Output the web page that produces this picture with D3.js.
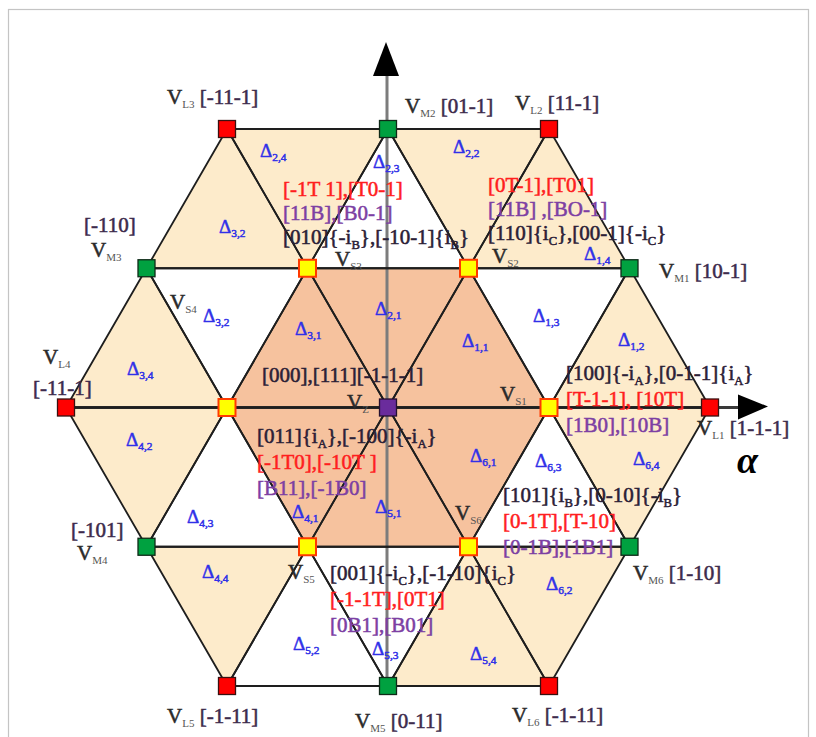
<!DOCTYPE html>
<html>
<head>
<meta charset="utf-8">
<script src="https://cdn.jsdelivr.net/npm/d3@7"></script>
<style>
  body { margin: 0; background: #fff; }
  svg { display: block; }
  text { font-family: "Liberation Serif", "Times New Roman", serif; white-space: pre; }
</style>
</head>
<body>
<svg id="chart" width="816" height="737"></svg>
<script>
// ---- Space-vector lattice: each vector at (a, b) -> alpha = a + b/2, beta = b*sqrt(3)/2
const vectorNames = ["Z","S1","S2","S3","S4","S5","S6","M1","M2","M3","M4","M5","M6","L1","L2","L3","L4","L5","L6"];
const vectorA     = [ 0,  1,   0,  -1,  -1,   0,   1,   1,  -1,  -2,  -1,   1,   2,   2,   0,  -2,  -2,   0,   2];
const vectorB     = [ 0,  0,   1,   1,   0,  -1,  -1,   1,   2,   1,  -1,  -2,  -1,   0,   2,   2,   0,  -2,  -2];
const vectorKind  = ["zero","small","small","small","small","small","small",
                     "medium","medium","medium","medium","medium","medium",
                     "large","large","large","large","large","large"];

// ---- Sub-triangles, four per sector
const triVertices = [
  ["Z","S1","S2"], ["S1","M1","L1"], ["S1","S2","M1"], ["S2","M1","L2"],
  ["Z","S2","S3"], ["S2","L2","M2"], ["S2","S3","M2"], ["S3","M2","L3"],
  ["Z","S3","S4"], ["S3","L3","M3"], ["S3","S4","M3"], ["S4","M3","L4"],
  ["Z","S4","S5"], ["S4","L4","M4"], ["S4","S5","M4"], ["S5","M4","L5"],
  ["Z","S5","S6"], ["S5","L5","M5"], ["S5","S6","M5"], ["S6","M5","L6"],
  ["Z","S6","S1"], ["S6","L6","M6"], ["S6","S1","M6"], ["S1","M6","L1"]
];
const triRegion = [
  "inner","outer","mid","outer",
  "inner","outer","mid","outer",
  "inner","outer","mid","outer",
  "inner","outer","mid","outer",
  "inner","mid","mid","outer",
  "inner","outer","mid","outer"
];
const triCaption = [
  "1,1","1,2","1,3","1,4",
  "2,1","2,2","2,3","2,4",
  "3,1","3,2","3,2","3,4",
  "4,1","4,2","4,3","4,4",
  "5,1","5,2","5,3","5,4",
  "6,1","6,2","6,3","6,4"
];

// ---- Vector labels ("~" encloses a subscript)
const vectorLabelLines = {
  L3: ["V~L3~ [-11-1]"], M2: ["V~M2~ [01-1]"], L2: ["V~L2~ [11-1]"],
  M3: ["[-110]", "V~M3~"], M1: ["V~M1~ [10-1]"],
  L4: ["V~L4~", "[-11-1]"], L1: ["V~L1~ [1-1-1]"],
  M4: ["[-101]", "V~M4~"], M6: ["V~M6~ [1-10]"],
  L5: ["V~L5~ [-1-11]"], M5: ["V~M5~ [0-11]"], L6: ["V~L6~ [-1-11]"],
  S1: ["V~S1~"], S2: ["V~S2~"], S3: ["V~S3~"], S4: ["V~S4~"], S5: ["V~S5~"], S6: ["V~S6~"], Z: ["V~Z~"]
};

// ---- Switching states of each vector (line text, line kind)
const stateLines = {
  S3: [["[-1T 1],[T0-1]","red"], ["[11B],[B0-1]","purple"], ["[010]{-i~B~},[-10-1]{i~B~}","dark"]],
  S2: [["[0T-1],[T01]","red"], ["[11B] ,[BO-1]","purple"], ["[110]{i~C~},[00-1]{-i~C~}","dark"]],
  Z:  [["[000],[111][-1-1-1]","dark"]],
  S1: [["[100]{-i~A~},[0-1-1]{i~A~}","dark"], ["[T-1-1], [10T]","red"], ["[1B0],[10B]","purple"]],
  S4: [["[011]{i~A~},[-100]{-i~A~}","dark"], ["[-1T0],[-10T ]","red"], ["[B11],[-1B0]","purple"]],
  S6: [["[101]{i~B~},[0-10]{-i~B~}","dark"], ["[0-1T],[T-10]","red"], ["[0-1B],[1B1]","purple"]],
  S5: [["[001]{-i~C~},[-1-10]{i~C~}","dark"], ["[-1-1T],[0T1]","red"], ["[0B1],[B01]","purple"]]
};

// ---- Layout (pixel anchors for text: left x, first baseline, line step)
const vectorLabelPos = {
  L3: [167,104,0], M2: [405,113,0], L2: [515,110,0], M3: [84,232,25], M1: [659,278,0],
  L4: [40,364,31], L1: [697,435,0], M4: [71,537,23], M6: [633,580,0],
  L5: [167,723,0], M5: [355,728,0], L6: [512,722,0],
  S1: [500,401,0], S2: [492,263,0], S3: [335,266,0], S4: [170,309,0], S5: [288,579,0], S6: [455,520,0], Z: [347,409,0]
};
const vectorLabelIndent = { M3: [0,7], L4: [3,-7], M4: [0,6] };
const statePos = {
  S3: [283,196,24], S2: [488,192,24], Z: [262,382,0], S1: [566,380,26],
  S4: [257,443,26], S6: [503,502,26], S5: [330,580,26]
};
const captionPos = [
  [462,347],[618,346],[533,322],[584,260],
  [375,315],[453,153],[373,168],[260,157],
  [295,335],[219,233],[203,322],[127,375],
  [292,518],[126,446],[187,523],[202,578],
  [375,513],[293,650],[372,655],[470,660],
  [470,462],[546,590],[535,467],[633,465]
];

const colors = {
  inner: "#f6c29e", outer: "#fdebcb", mid: "#ffffff",
  dark: "#2b2036", red: "#ff1e1e", purple: "#7d3fa3", caption: "#3030e8",
  bracket: "#3d2b4c", vee: "#2a2a2a"
};
const squareStyle = {
  large:  { fill: "#ff0000", stroke: "#3a1010", sw: 1.3 },
  medium: { fill: "#00a140", stroke: "#0f2a18", sw: 1.3 },
  small:  { fill: "#ffff00", stroke: "#ff3a00", sw: 2 },
  zero:   { fill: "#6a2c9c", stroke: "#241030", sw: 1.3 }
};

// ---- Scales
const svg = d3.select("#chart");
const x = d3.scaleLinear().domain([-2, 2]).range([66, 710]);
const y = d3.scaleLinear().domain([-Math.sqrt(3), Math.sqrt(3)]).range([686, 129]);
const idx = Object.fromEntries(vectorNames.map((n, i) => [n, i]));
const pos = n => {
  const i = idx[n];
  return [x(vectorA[i] + vectorB[i] / 2), y(vectorB[i] * Math.sqrt(3) / 2)];
};

// frame
svg.append("rect").attr("x", 8.5).attr("y", 9.5).attr("width", 800).attr("height", 745)
  .attr("fill", "none").attr("stroke", "#c4c4c4").attr("stroke-width", 1.2);

// ---- Triangles
const tris = triVertices.map((v, i) => ({ v, region: triRegion[i], caption: triCaption[i], i }));
svg.append("g").selectAll("path").data(tris).join("path")
  .attr("d", d => "M" + d.v.map(pos).map(p => p.join(",")).join("L") + "Z")
  .attr("fill", d => colors[d.region]);

// axes (drawn over fills, under edges)
const cx = x(0), cy = y(0);
svg.append("line").attr("x1", cx - 1).attr("x2", cx - 1).attr("y1", 62).attr("y2", y(-Math.sqrt(3)))
  .attr("stroke", "#7c7c7c").attr("stroke-width", 3);
svg.append("line").attr("x1", x(-2)).attr("x2", 748).attr("y1", cy).attr("y2", cy)
  .attr("stroke", "#3a3a3a").attr("stroke-width", 3);

svg.append("g").selectAll("path").data(tris).join("path")
  .attr("d", d => "M" + d.v.map(pos).map(p => p.join(",")).join("L") + "Z")
  .attr("fill", "none").attr("stroke", "#1e1e1e").attr("stroke-width", 1.8)
  .attr("stroke-linejoin", "round");

// arrowheads
svg.append("path").attr("d", `M${cx - 2},42 L${cx + 11},76 L${cx - 15},76 Z`).attr("fill", "#000");
svg.append("path").attr("d", `M768,${cy - 1} L738,${cy - 13} L738,${cy + 12} Z`).attr("fill", "#000");
svg.append("text").attr("x", 737).attr("y", 473).attr("font-size", 38)
  .attr("font-style", "italic").attr("font-weight", "bold").attr("fill", "#000").text("α");

// ---- Rich text helper: "~" toggles subscript
function rich(g, str, px, py, size, color, weight) {
  const t = g.append("text").attr("x", px).attr("y", py).attr("font-size", size).attr("fill", color)
    .attr("stroke", color).attr("stroke-width", weight == null ? 0.55 : weight);
  const parts = str.split("~");
  let down = false;
  parts.forEach((p, i) => {
    if (!p) return;
    const ts = t.append("tspan").text(p);
    if (i % 2 === 1) {
      ts.attr("font-size", size * 0.6).attr("dy", size * 0.22);
      down = true;
    } else if (down) {
      ts.attr("dy", -size * 0.22);
      down = false;
    }
  });
  return t;
}

// triangle captions
const capG = svg.append("g");
tris.forEach(d => {
  const [px, py] = captionPos[d.i];
  rich(capG, "Δ~" + d.caption + "~", px, py, 19, colors.caption, 0.5);
});

// switching states
const stG = svg.append("g");
Object.entries(stateLines).forEach(([k, lines]) => {
  const [px, py, step] = statePos[k];
  lines.forEach(([txt, kind], j) => rich(stG, txt, px, py + j * step, 21, colors[kind]));
});

// vector labels
const vlG = svg.append("g");
Object.entries(vectorLabelLines).forEach(([k, lines]) => {
  const [px, py, step] = vectorLabelPos[k];
  const ind = vectorLabelIndent[k] || [0, 0];
  lines.forEach((txt, j) => {
    const t = rich(vlG, "", px + ind[j], py + j * step, 21, colors.vee);
    // "V" + subscript + bracketed state, each with its own colour
    const m = txt.match(/^(V)~([^~]+)~(.*)$/);
    if (m) {
      t.append("tspan").text("V");
      t.append("tspan").text(m[2]).attr("font-size", 11).attr("dy", 4).attr("fill", "#555").attr("stroke", "none");
      if (m[3]) t.append("tspan").text(m[3]).attr("dy", -4).attr("fill", colors.bracket).attr("stroke", colors.bracket);
    } else {
      t.append("tspan").text(txt).attr("fill", colors.bracket).attr("stroke", colors.bracket);
    }
  });
});

// ---- Vector squares
const sq = 17;
svg.append("g").selectAll("rect").data(vectorNames).join("rect")
  .attr("x", n => pos(n)[0] - sq / 2).attr("y", n => pos(n)[1] - sq / 2)
  .attr("width", sq).attr("height", sq)
  .attr("fill", n => squareStyle[vectorKind[idx[n]]].fill)
  .attr("stroke", n => squareStyle[vectorKind[idx[n]]].stroke)
  .attr("stroke-width", n => squareStyle[vectorKind[idx[n]]].sw);
</script>
</body>
</html>
